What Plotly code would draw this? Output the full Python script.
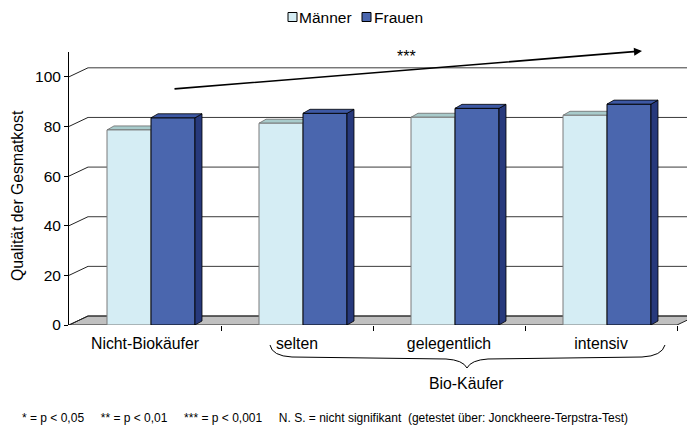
import plotly.graph_objects as go

# ---- data ----
categories = ["Nicht-Biokäufer", "selten", "gelegentlich", "intensiv"]
maenner = [78.6, 81.3, 83.7, 84.5]
frauen = [83.5, 85.3, 87.3, 89.0]
y_ticks = [0, 20, 40, 60, 80, 100]
series_names = ["Männer", "Frauen"]

# ---- layout geometry ----
W, H = 687, 427
ML, MR, MT, MB = 69, 0, 52, 102
PW = W - ML - MR
PH = H - MT - MB
PX_PER_CAT = 152.0
X0 = -0.5
XMAX = X0 + PW / PX_PER_CAT
YMAX = 110.0
PX_PER_Y = PH / YMAX

def dx_px(p):
    return p / PX_PER_CAT

def dy_px(p):
    return p / PX_PER_Y

def paper_x(px):
    return (px - ML) / PW

def paper_y(py):
    return (H - MB - py) / PH

WALL_DX, WALL_DY = dx_px(19), dy_px(9)
BAR_DX, BAR_DY = dx_px(7), dy_px(4)
BAR_W = dx_px(44)
OFF_M = dx_px(-38)
OFF_F = dx_px(6)

idx = list(range(len(categories)))
FONT = "Arial, Liberation Sans, sans-serif"

C_M = "#d5edf4"
C_M_TOP = "#a8cbcb"
C_F = "#4a66ae"
C_F_TOP = "#3d58a4"
C_F_SIDE = "#27397c"
series_colors = [C_M, C_F]
series_lines = ["#7a7a7a", "#000000"]

fig = go.Figure()
fig.add_trace(go.Bar(x=idx, y=maenner, name=series_names[0], width=BAR_W, offset=OFF_M,
                     marker=dict(color=C_M, line=dict(color=series_lines[0], width=1))))
fig.add_trace(go.Bar(x=idx, y=frauen, name=series_names[1], width=BAR_W, offset=OFF_F,
                     marker=dict(color=C_F, line=dict(color=series_lines[1], width=1))))

shapes = []
# floor
n = len(categories)
shapes.append(dict(type="path", xref="x", yref="y", layer="below",
                   path=f"M{X0},0 L{X0 + n},0 L{X0 + n + WALL_DX},{WALL_DY} L{X0 + WALL_DX},{WALL_DY} Z",
                   fillcolor="#c0c0c0", line=dict(color="#222222", width=1)))
# back wall grid lines and left wall diagonals
for v in y_ticks:
    shapes.append(dict(type="line", xref="x", yref="y", layer="below",
                       x0=X0, y0=v, x1=X0 + WALL_DX, y1=v + WALL_DY,
                       line=dict(color="#222222", width=1)))
    shapes.append(dict(type="line", xref="x", yref="y", layer="below",
                       x0=X0 + WALL_DX, y0=v + WALL_DY, x1=XMAX + 1, y1=v + WALL_DY,
                       line=dict(color="#3a3a3a", width=1)))
# 3D faces
for i, (m, f) in zip(idx, zip(maenner, frauen)):
    mx0 = i + OFF_M
    mx1 = mx0 + BAR_W
    shapes.append(dict(type="path", xref="x", yref="y", layer="below",
                       path=f"M{mx0},{m} L{mx1},{m} L{mx1 + BAR_DX},{m + BAR_DY} L{mx0 + BAR_DX},{m + BAR_DY} Z",
                       fillcolor=C_M_TOP, line=dict(color="#6a6a6a", width=0.8)))
    fx0 = i + OFF_F
    fx1 = fx0 + BAR_W
    shapes.append(dict(type="path", xref="x", yref="y", layer="above",
                       path=f"M{fx1},0 L{fx1},{f} L{fx1 + BAR_DX},{f + BAR_DY} L{fx1 + BAR_DX},{BAR_DY} Z",
                       fillcolor=C_F_SIDE, line=dict(color="#000000", width=0.8)))
    shapes.append(dict(type="path", xref="x", yref="y", layer="above",
                       path=f"M{fx0},{f} L{fx1},{f} L{fx1 + BAR_DX},{f + BAR_DY} L{fx0 + BAR_DX},{f + BAR_DY} Z",
                       fillcolor=C_F_TOP, line=dict(color="#000000", width=0.8)))

# brace under "Bio-Käufer" categories
def P(px, py):
    return f"{paper_x(px):.5f},{paper_y(py):.5f}"

brace = (f"M{P(270, 345)} Q{P(272, 356)} {P(292, 357)} L{P(446, 359)} "
         f"Q{P(463, 360)} {P(467, 368)} Q{P(471, 360)} {P(488, 359)} "
         f"L{P(642, 357)} Q{P(662, 356)} {P(665, 345)}")
shapes.append(dict(type="path", xref="paper", yref="paper", path=brace,
                   line=dict(color="#000000", width=1)))

# custom legend (square + label)
legend_sq_x = [288, 362]
legend_tx_x = [297, 372]
LEG_Y = 17
annotations = []
for name, col, lc, sx, tx in zip(series_names, series_colors, series_lines, legend_sq_x, legend_tx_x):
    shapes.append(dict(type="rect", xref="paper", yref="paper",
                       x0=paper_x(sx), x1=paper_x(sx + 9), y0=paper_y(LEG_Y - 4.5), y1=paper_y(LEG_Y + 4.5),
                       fillcolor=col, line=dict(color="#000000", width=1)))
    annotations.append(dict(x=paper_x(tx), y=paper_y(LEG_Y), xref="paper", yref="paper",
                            xanchor="left", yanchor="middle",
                            text=name, showarrow=False, font=dict(family=FONT, size=15.5, color="#000000")))

annotations += [
    # trend arrow
    dict(x=dx_px(642 - 145), y=(H - MB - 51) / PX_PER_Y, ax=dx_px(173 - 145), ay=(H - MB - 89) / PX_PER_Y,
         xref="x", yref="y", axref="x", ayref="y", text="", showarrow=True,
         arrowhead=2, arrowsize=1, arrowwidth=1.6, arrowcolor="#000000", standoff=0),
    dict(x=dx_px(406 - 145), y=(H - MB - 56) / PX_PER_Y, xref="x", yref="y", text="***",
         xanchor="center", yanchor="middle",
         showarrow=False, font=dict(family=FONT, size=16, color="#000000")),
    dict(x=paper_x(17), y=paper_y(196), xref="paper", yref="paper", text="Qualität der Gesmatkost",
         xanchor="center", yanchor="middle",
         textangle=-90, showarrow=False, font=dict(family=FONT, size=15.8, color="#000000")),
    dict(x=paper_x(466), y=paper_y(383), xref="paper", yref="paper", text="Bio-Käufer",
         xanchor="center", yanchor="middle",
         showarrow=False, font=dict(family=FONT, size=15.8, color="#000000")),
    dict(x=paper_x(20), y=paper_y(418), xref="paper", yref="paper", xanchor="left", yanchor="middle",
         text="* = p < 0,05&nbsp;&nbsp;&nbsp;&nbsp; ** = p < 0,01&nbsp;&nbsp;&nbsp;&nbsp; *** = p < 0,001&nbsp;&nbsp;&nbsp;&nbsp; "
              "N. S. = nicht signifikant&nbsp; (getestet über: Jonckheere-Terpstra-Test)",
         showarrow=False, font=dict(family=FONT, size=12, color="#000000")),
]

fig.update_layout(
    width=W, height=H,
    margin=dict(l=ML, r=MR, t=MT, b=MB, pad=0, autoexpand=False),
    paper_bgcolor="white", plot_bgcolor="white",
    font=dict(family=FONT, size=15, color="#000000"),
    barmode="overlay",
    showlegend=False,
    hovermode=False,
    shapes=shapes,
    annotations=annotations,
    xaxis=dict(range=[X0, XMAX], tickmode="array", tickvals=idx, ticktext=categories,
               ticks="", showgrid=False, zeroline=False, showline=False, automargin=False,
               ticklabelstandoff=7,
               tickfont=dict(family=FONT, size=15.8, color="#000000"),
               minor=dict(tickmode="array", tickvals=[i + 0.5 for i in idx], ticks="outside",
                          ticklen=5, tickcolor="#000000", showgrid=False)),
    yaxis=dict(range=[0, YMAX], tickmode="array", tickvals=y_ticks, ticks="outside", ticklen=4,
               tickcolor="#000000", showline=True, linecolor="#000000", linewidth=1,
               showgrid=False, zeroline=False, automargin=False,
               tickfont=dict(family=FONT, size=15.5, color="#000000")),
)

fig.write_html("out.html", config={"displayModeBar": False},
               post_script="document.body.style.margin='0';document.body.style.padding='0';")
